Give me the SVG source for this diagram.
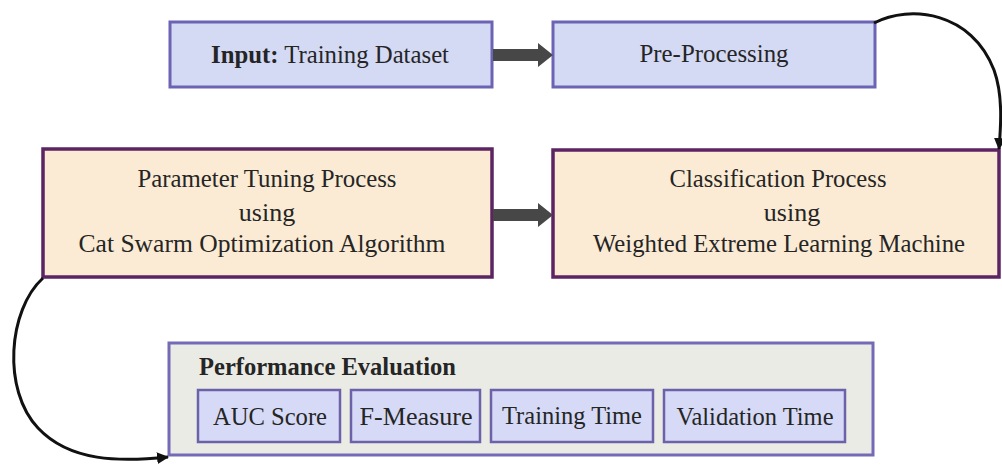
<svg xmlns="http://www.w3.org/2000/svg" width="1002" height="467" viewBox="0 0 1002 467">
<defs>
<style>
.blue{fill:#d4d9f4;stroke:#6b63b3;stroke-width:3}
.peach{fill:#fbebd4;stroke:#5c2462;stroke-width:3.5}
.perf{fill:#ebebe5;stroke:#736bb5;stroke-width:3}
.inner{fill:#d6daf6;stroke:#6c62aa;stroke-width:2.5}
text{font-family:"Liberation Serif","Times New Roman",serif;fill:#252525}
.t25{font-size:25px}
.t26{font-size:26px}
.c{text-anchor:middle}
.b{font-weight:bold}
.curve{fill:none;stroke:#111;stroke-width:3}
.block{fill:#474747}
</style>
<marker id="ah" viewBox="0 0 12 12" refX="11" refY="6" markerWidth="12" markerHeight="12" markerUnits="userSpaceOnUse" orient="auto">
<path d="M0,0 L12,6 L0,12 z" fill="#111"/>
</marker>
</defs>
<rect width="1002" height="467" fill="#ffffff"/>

<g id="input">
<rect class="blue" x="170" y="22" width="322" height="65"/>
<text class="t25" x="211" y="63" textLength="238" lengthAdjust="spacingAndGlyphs"><tspan class="b">Input:</tspan> Training Dataset</text>
</g>

<g id="preprocessing">
<rect class="blue" x="553" y="22" width="322" height="65"/>
<text class="t25 c" x="714" y="62" textLength="149" lengthAdjust="spacingAndGlyphs">Pre-Processing</text>
</g>

<g id="tuning">
<rect class="peach" x="43" y="149" width="449" height="128"/>
<text class="t26 c" x="267" y="187" textLength="259" lengthAdjust="spacingAndGlyphs">Parameter Tuning Process</text>
<text class="t26 c" x="267" y="221">using</text>
<text class="t26 c" x="262" y="252" textLength="367" lengthAdjust="spacingAndGlyphs">Cat Swarm Optimization Algorithm</text>
</g>

<g id="classification">
<rect class="peach" x="553" y="150" width="446" height="127"/>
<text class="t26 c" x="778" y="187" textLength="217" lengthAdjust="spacingAndGlyphs">Classification Process</text>
<text class="t26 c" x="792" y="221">using</text>
<text class="t26 c" x="779" y="252" textLength="372" lengthAdjust="spacingAndGlyphs">Weighted Extreme Learning Machine</text>
</g>

<g id="evaluation">
<rect class="perf" x="169" y="343" width="704" height="112"/>
<text class="t25 b" x="199" y="375" textLength="257" lengthAdjust="spacingAndGlyphs">Performance Evaluation</text>
<g id="auc">
<rect class="inner" x="198" y="390" width="142" height="52"/>
<text class="t25 c" x="270" y="425" textLength="114" lengthAdjust="spacingAndGlyphs">AUC Score</text>
</g>
<g id="fmeasure">
<rect class="inner" x="351" y="390" width="129" height="52"/>
<text class="t25 c" x="416" y="425" textLength="113" lengthAdjust="spacingAndGlyphs">F-Measure</text>
</g>
<g id="trainingtime">
<rect class="inner" x="491" y="390" width="162" height="52"/>
<text class="t25 c" x="572" y="424" textLength="140" lengthAdjust="spacingAndGlyphs">Training Time</text>
</g>
<g id="validationtime">
<rect class="inner" x="664" y="390" width="181" height="52"/>
<text class="t25 c" x="755" y="425" textLength="157" lengthAdjust="spacingAndGlyphs">Validation Time</text>
</g>
</g>

<g id="connectors">
<path class="block" d="M493,49 L538,49 L538,43 L553,55 L538,67 L538,61 L493,61 z"/>
<path class="block" d="M493,209 L538,209 L538,203 L553,215 L538,227 L538,221 L493,221 z"/>
<path class="curve" d="M874,23 C910,4 972,12 994,70 C1003,95 1001,125 999,149" marker-end="url(#ah)"/>
<path class="curve" d="M43,278 C8,310 2,390 38,428 C70,462 120,462 168,457" marker-end="url(#ah)"/>
</g>
</svg>
